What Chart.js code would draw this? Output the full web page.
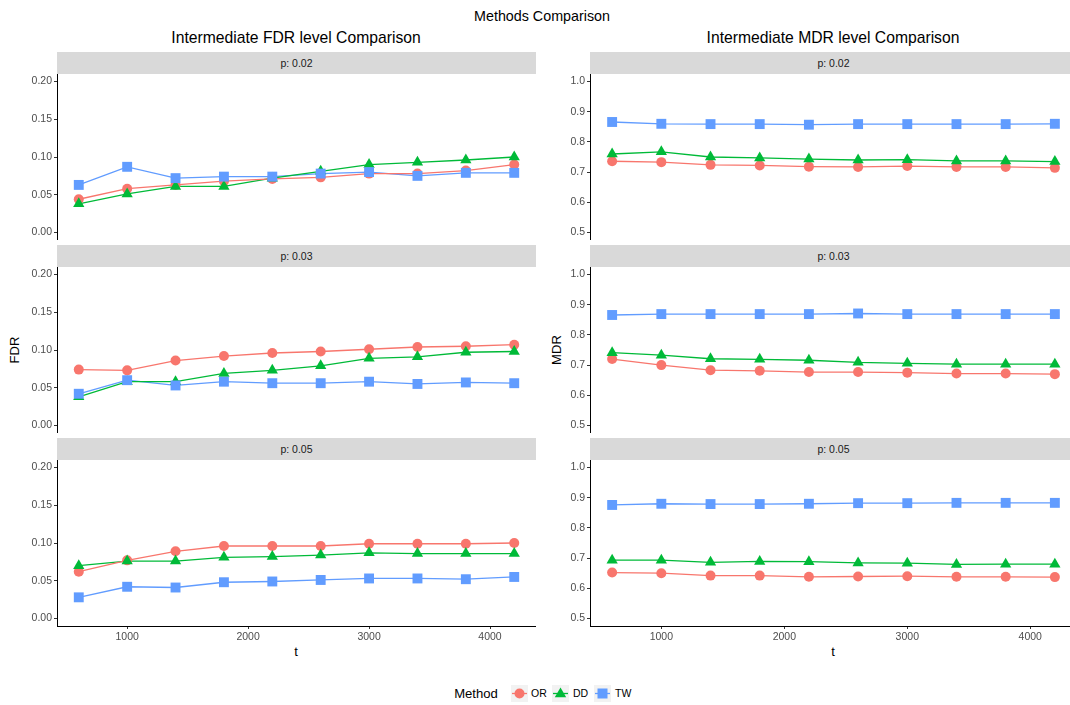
<!DOCTYPE html>
<html><head><meta charset="utf-8">
<script src="https://cdn.jsdelivr.net/npm/chart.js@4"></script>
<style>
html,body{margin:0;padding:0;background:#fff;overflow:hidden;}
#wrap{position:relative;width:1070px;height:705px;overflow:hidden;font-family:"Liberation Sans",Arial,sans-serif;background:#fff;}
canvas{position:absolute;}
.strip{position:absolute;background:#d9d9d9;height:22px;line-height:22px;text-align:center;font-size:10.5px;color:#1a1a1a;}
.txt{position:absolute;white-space:nowrap;transform:translate(-50%,-50%);color:#000;}
.leg{position:absolute;top:684px;height:18px;display:flex;align-items:center;font-size:10.5px;color:#000;}
</style></head>
<body><div id="wrap">
<div class="txt" style="left:542px;top:16px;font-size:14.3px;">Methods Comparison</div>
<div class="txt" style="left:296px;top:38px;font-size:15.7px;">Intermediate FDR level Comparison</div>
<div class="txt" style="left:833px;top:38px;font-size:15.7px;">Intermediate MDR level Comparison</div>
<div class="txt" style="left:14px;top:350px;font-size:13.1px;transform:translate(-50%,-50%) rotate(-90deg);">FDR</div>
<div class="txt" style="left:556px;top:350px;font-size:13.1px;transform:translate(-50%,-50%) rotate(-90deg);">MDR</div>
<div class="txt" style="left:296px;top:651px;font-size:13.1px;">t</div>
<div class="txt" style="left:833px;top:651px;font-size:13.1px;">t</div>
<div class="txt" style="left:476px;top:693px;font-size:13.1px;">Method</div>
<div class="leg" style="left:511px;">
<svg width="17" height="17"><rect width="17" height="17" fill="#f2f2f2"/><line x1="1" y1="8.5" x2="16" y2="8.5" stroke="#F8766D" stroke-width="1.3"/><circle cx="8.5" cy="8.5" r="5" fill="#F8766D"/></svg>
<span style="margin-left:3px;">OR</span></div>
<div class="leg" style="left:552px;">
<svg width="17" height="17"><rect width="17" height="17" fill="#f2f2f2"/><line x1="1" y1="8.5" x2="16" y2="8.5" stroke="#00BA38" stroke-width="1.3"/><polygon points="8.5,2.5 14.2,12.3 2.8,12.3" fill="#00BA38"/></svg>
<span style="margin-left:4px;">DD</span></div>
<div class="leg" style="left:594px;">
<svg width="17" height="17"><rect width="17" height="17" fill="#f2f2f2"/><line x1="1" y1="8.5" x2="16" y2="8.5" stroke="#619CFF" stroke-width="1.3"/><rect x="3.5" y="3.5" width="10" height="10" fill="#619CFF"/></svg>
<span style="margin-left:4px;">TW</span></div>
</div>
<script>
const T = [600, 1000, 1400, 1800, 2200, 2600, 3000, 3400, 3800, 4200];
const X_TICKS = [1000, 2000, 3000, 4000];
const FDR_TICKS = [0, 0.05, 0.10, 0.15, 0.20];
const MDR_TICKS = [0.5, 0.6, 0.7, 0.8, 0.9, 1.0];
const METHODS = ['OR', 'DD', 'TW'];
const STRIPS = ['p: 0.02', 'p: 0.03', 'p: 0.05'];

const fdr02_OR = [0.044,0.058,0.063,0.068,0.071,0.073,0.078,0.078,0.082,0.090];
const fdr02_DD = [0.038,0.051,0.061,0.061,0.072,0.081,0.090,0.093,0.096,0.100];
const fdr02_TW = [0.063,0.087,0.072,0.074,0.074,0.078,0.080,0.075,0.079,0.079];

const mdr02_OR = [0.736,0.733,0.724,0.722,0.718,0.717,0.720,0.717,0.717,0.714];
const mdr02_DD = [0.760,0.767,0.750,0.747,0.743,0.740,0.741,0.737,0.737,0.735];
const mdr02_TW = [0.866,0.860,0.859,0.859,0.857,0.859,0.859,0.859,0.859,0.860];

const fdr03_OR = [0.074,0.073,0.086,0.092,0.096,0.098,0.101,0.104,0.105,0.107];
const fdr03_DD = [0.038,0.058,0.058,0.069,0.073,0.079,0.089,0.091,0.097,0.098];
const fdr03_TW = [0.042,0.060,0.053,0.058,0.056,0.056,0.058,0.055,0.057,0.056];

const mdr03_OR = [0.720,0.700,0.683,0.681,0.677,0.677,0.675,0.672,0.672,0.670];
const mdr03_DD = [0.741,0.733,0.721,0.719,0.716,0.709,0.706,0.703,0.703,0.703];
const mdr03_TW = [0.866,0.869,0.869,0.869,0.869,0.871,0.869,0.869,0.869,0.869];

const fdr05_OR = [0.062,0.077,0.089,0.096,0.096,0.096,0.099,0.099,0.099,0.100];
const fdr05_DD = [0.070,0.076,0.076,0.081,0.082,0.084,0.087,0.086,0.086,0.086];
const fdr05_TW = [0.028,0.042,0.041,0.048,0.049,0.051,0.053,0.053,0.052,0.055];

const mdr05_OR = [0.652,0.650,0.642,0.642,0.638,0.639,0.640,0.638,0.638,0.637];
const mdr05_DD = [0.693,0.693,0.686,0.689,0.688,0.684,0.683,0.679,0.680,0.680];
const mdr05_TW = [0.876,0.880,0.879,0.879,0.880,0.882,0.882,0.883,0.883,0.883];

const FDR_DATA = [[fdr02_OR, fdr02_DD, fdr02_TW], [fdr03_OR, fdr03_DD, fdr03_TW], [fdr05_OR, fdr05_DD, fdr05_TW]];
const MDR_DATA = [[mdr02_OR, mdr02_DD, mdr02_TW], [mdr03_OR, mdr03_DD, mdr03_TW], [mdr05_OR, mdr05_DD, mdr05_TW]];

// styling
const COLORS = {OR: '#F8766D', DD: '#00BA38', TW: '#619CFF'};
const SHAPES = {OR: 'circle', DD: 'triangle', TW: 'rect'};
const RADII = {OR: 5, DD: 6.5, TW: 7};
const FONT = '"Liberation Sans", Arial, sans-serif';
const ROW_TOPS = [74, 267, 460];
const PANEL_H = 166;
const AXIS_W = 50, X_AXIS_H = 24;
const COLS = [
  {plotLeft: 57, plotW: 479, yMin: -0.01, yMax: 0.21, ticks: FDR_TICKS, dec: 2, data: FDR_DATA},
  {plotLeft: 590, plotW: 487, yMin: 0.475, yMax: 1.025, ticks: MDR_TICKS, dec: 1, data: MDR_DATA}
];

const wrap = document.getElementById('wrap');

function noPad(sc) { sc.paddingTop = 0; sc.paddingBottom = 0; sc.paddingLeft = 0; sc.paddingRight = 0; }

function makePanel(col, row) {
  const cfg = COLS[col];
  const bottom = row === 2;
  const s = document.createElement('div');
  s.className = 'strip';
  s.style.left = cfg.plotLeft + 'px';
  s.style.width = cfg.plotW + 'px';
  s.style.top = (ROW_TOPS[row] - 22) + 'px';
  s.textContent = STRIPS[row];
  wrap.appendChild(s);

  const c = document.createElement('canvas');
  const w = AXIS_W + cfg.plotW, h = PANEL_H + (bottom ? X_AXIS_H : 0);
  c.width = w; c.height = h;
  c.style.width = w + 'px'; c.style.height = h + 'px';
  c.style.left = (cfg.plotLeft - AXIS_W) + 'px';
  c.style.top = ROW_TOPS[row] + 'px';
  wrap.appendChild(c);

  const datasets = [];
  METHODS.forEach((m, k) => {
    const vals = cfg.data[row][k];
    const pts = T.map((t, i) => ({x: t, y: vals[i]}));
    datasets.push({label: m + ' line', data: pts, borderColor: COLORS[m], borderWidth: 1.3,
      pointRadius: 0, fill: false, tension: 0, order: 10});
  });
  METHODS.forEach((m, k) => {
    const vals = cfg.data[row][k];
    const pts = T.map((t, i) => ({x: t, y: vals[i]}));
    datasets.push({label: m, data: pts, showLine: false, pointStyle: SHAPES[m], pointRadius: RADII[m],
      backgroundColor: COLORS[m], borderColor: COLORS[m], borderWidth: 0, order: 3 - k});
  });

  const gridCfg = {display: true, drawOnChartArea: false, drawTicks: true, tickLength: 3, tickColor: '#333', tickWidth: 1};
  new Chart(c, {
    type: 'line',
    data: {datasets},
    options: {
      responsive: false, animation: false, events: [],
      layout: {padding: 0, autoPadding: false},
      plugins: {legend: {display: false}, tooltip: {enabled: false}},
      scales: {
        x: {type: 'linear', min: 420, max: 4380, display: bottom,
          afterBuildTicks: sc => { sc.ticks = X_TICKS.map(v => ({value: v})); },
          afterFit: sc => { sc.height = bottom ? X_AXIS_H : 0; noPad(sc); },
          grid: gridCfg,
          border: {display: true, color: '#000', width: 1},
          ticks: {color: '#4d4d4d', font: {size: 10.5, family: FONT}, padding: 2, maxRotation: 0, autoSkip: false,
            callback: v => String(v)}},
        y: {type: 'linear', min: cfg.yMin, max: cfg.yMax,
          afterBuildTicks: sc => { sc.ticks = cfg.ticks.map(v => ({value: v})); },
          afterFit: sc => { sc.width = AXIS_W; noPad(sc); },
          grid: gridCfg,
          border: {display: true, color: '#000', width: 1},
          ticks: {color: '#4d4d4d', font: {size: 10.5, family: FONT}, padding: 2, autoSkip: false,
            callback: v => Number(v).toFixed(cfg.dec)}}
      }
    }
  });
}

for (let col = 0; col < 2; col++) for (let row = 0; row < 3; row++) makePanel(col, row);
</script>
</body></html>
